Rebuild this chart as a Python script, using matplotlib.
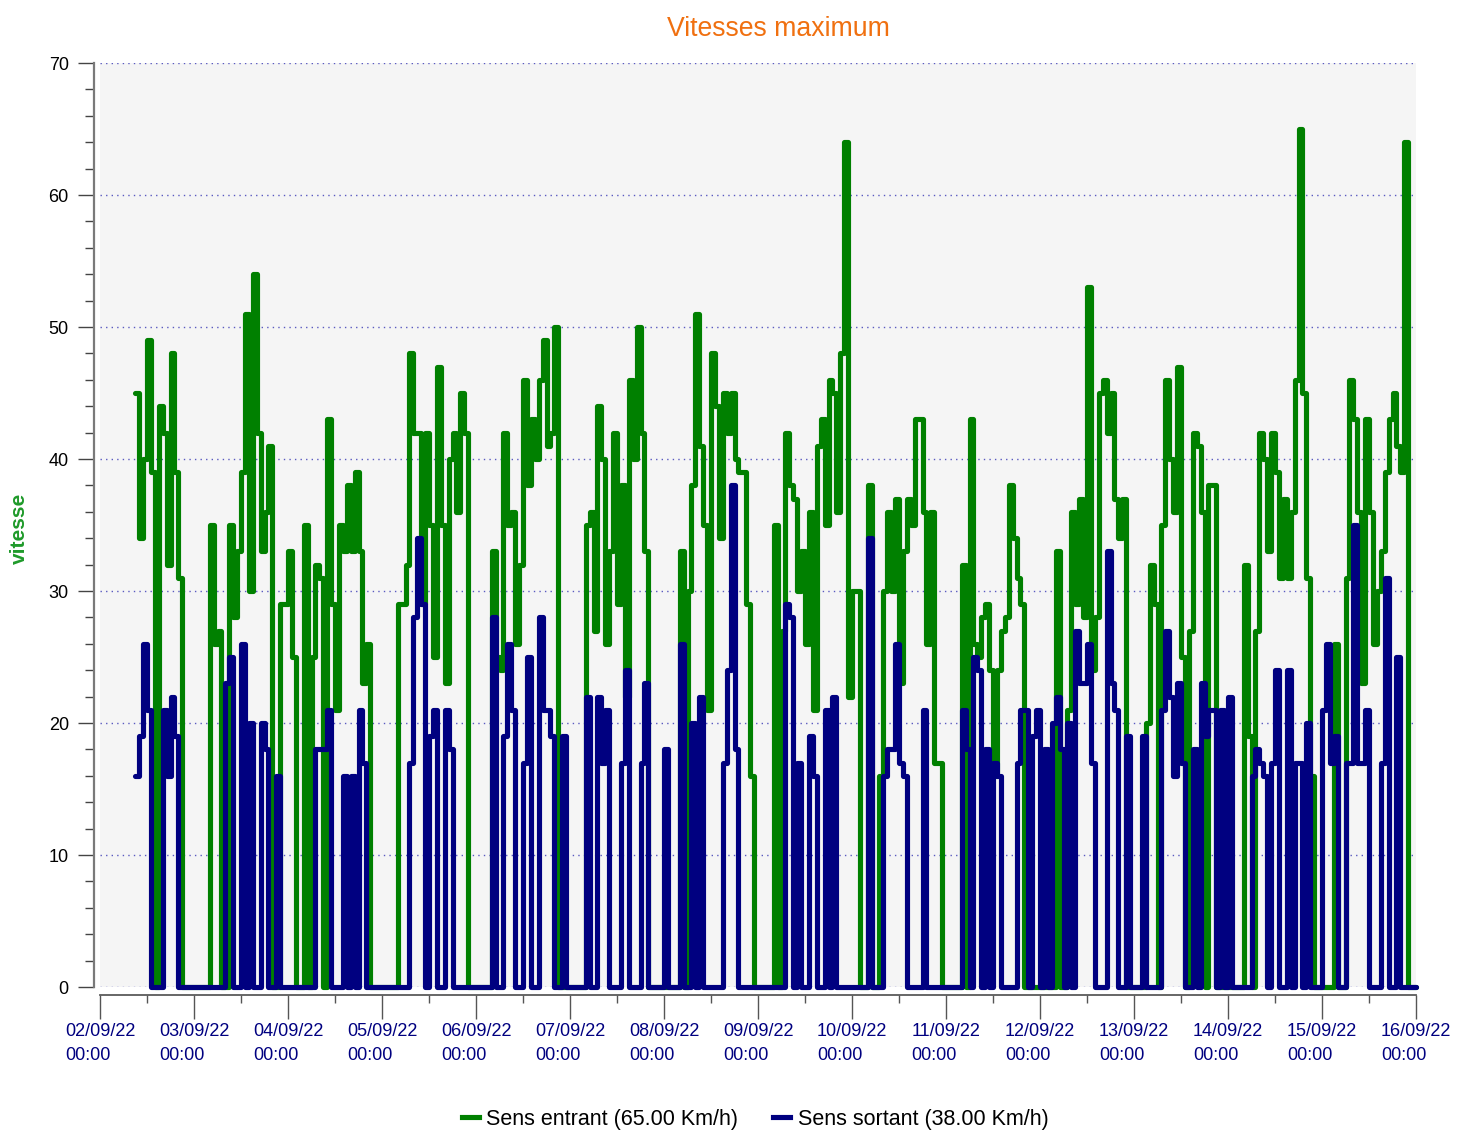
import numpy as np
import pandas as pd
import matplotlib
matplotlib.use("Agg")
import matplotlib.pyplot as plt
from matplotlib.lines import Line2D

plt.rcParams['font.family'] = ['Liberation Sans', 'DejaVu Sans']

# Hourly maximum speeds (km/h), 02/09/22 00:00 -> 15/09/22 23:00, one day per line
entrant = [
    0, 0, 0, 0, 0, 0, 0, 0, 0, 45, 34, 40, 49, 39, 0, 44, 42, 32, 48, 39, 31, 0, 0, 0,
    0, 0, 0, 0, 35, 26, 27, 0, 0, 35, 28, 33, 39, 51, 30, 54, 42, 33, 36, 41, 0, 0, 29, 29,
    33, 25, 0, 0, 35, 0, 25, 32, 31, 0, 43, 29, 21, 35, 33, 38, 33, 39, 33, 23, 26, 0, 0, 0,
    0, 0, 0, 0, 29, 29, 32, 48, 42, 42, 29, 42, 35, 25, 47, 35, 23, 40, 42, 36, 45, 42, 0, 0,
    0, 0, 0, 0, 33, 25, 24, 42, 35, 36, 26, 32, 46, 38, 43, 40, 46, 49, 41, 42, 50, 0, 0, 0,
    0, 0, 0, 0, 35, 36, 27, 44, 40, 26, 33, 42, 29, 38, 22, 46, 40, 50, 42, 33, 0, 0, 0, 0,
    0, 0, 0, 0, 33, 0, 30, 38, 51, 41, 35, 21, 48, 44, 34, 45, 42, 45, 40, 39, 39, 29, 16, 0,
    0, 0, 0, 0, 35, 0, 27, 42, 38, 37, 30, 33, 26, 36, 21, 41, 43, 35, 46, 45, 36, 48, 64, 22,
    30, 30, 0, 0, 38, 0, 0, 16, 30, 36, 30, 37, 23, 33, 37, 35, 43, 43, 36, 26, 36, 17, 17, 0,
    0, 0, 0, 0, 32, 0, 43, 26, 25, 28, 29, 24, 16, 24, 27, 28, 38, 34, 31, 29, 0, 0, 0, 0,
    0, 0, 0, 0, 33, 0, 0, 21, 36, 29, 37, 28, 53, 24, 28, 45, 46, 42, 45, 37, 34, 37, 0, 0,
    0, 0, 0, 20, 32, 29, 0, 35, 46, 40, 36, 47, 25, 0, 27, 42, 41, 36, 0, 38, 38, 0, 0, 0,
    0, 0, 0, 0, 32, 19, 0, 27, 42, 40, 33, 42, 39, 31, 37, 31, 36, 46, 65, 45, 31, 16, 0, 0,
    0, 0, 0, 26, 0, 0, 31, 46, 43, 36, 23, 43, 36, 26, 30, 33, 39, 43, 45, 41, 39, 64, 0, 0,
]
sortant = [
    0, 0, 0, 0, 0, 0, 0, 0, 0, 16, 19, 26, 21, 0, 0, 0, 21, 16, 22, 19, 0, 0, 0, 0,
    0, 0, 0, 0, 0, 0, 0, 0, 23, 25, 0, 0, 26, 0, 20, 0, 0, 20, 18, 0, 0, 16, 0, 0,
    0, 0, 0, 0, 0, 0, 0, 18, 18, 18, 21, 0, 0, 0, 16, 0, 16, 0, 21, 17, 0, 0, 0, 0,
    0, 0, 0, 0, 0, 0, 0, 17, 28, 34, 29, 0, 19, 21, 0, 0, 21, 18, 0, 0, 0, 0, 0, 0,
    0, 0, 0, 0, 28, 0, 0, 19, 26, 21, 0, 0, 17, 25, 0, 0, 28, 21, 21, 19, 0, 0, 19, 0,
    0, 0, 0, 0, 22, 0, 0, 22, 17, 21, 0, 0, 0, 17, 24, 0, 0, 0, 17, 23, 0, 0, 0, 0,
    18, 0, 0, 0, 26, 0, 0, 20, 0, 22, 0, 0, 0, 0, 0, 17, 24, 38, 18, 0, 0, 0, 0, 0,
    0, 0, 0, 0, 0, 0, 0, 29, 28, 0, 17, 0, 0, 19, 16, 0, 0, 21, 0, 22, 0, 0, 0, 0,
    0, 0, 0, 0, 34, 0, 0, 0, 16, 18, 18, 26, 17, 16, 0, 0, 0, 0, 21, 0, 0, 0, 0, 0,
    0, 0, 0, 0, 21, 18, 0, 25, 24, 0, 18, 0, 17, 16, 0, 0, 0, 0, 17, 21, 21, 0, 19, 21,
    0, 18, 0, 20, 22, 18, 0, 20, 0, 27, 23, 23, 26, 17, 0, 0, 0, 33, 23, 21, 0, 0, 19, 0,
    0, 0, 19, 0, 0, 0, 0, 21, 27, 22, 16, 23, 17, 0, 0, 18, 0, 23, 19, 21, 21, 0, 21, 0,
    22, 0, 0, 0, 0, 0, 16, 18, 17, 16, 0, 17, 24, 0, 0, 24, 0, 17, 17, 0, 20, 0, 0, 0,
    21, 26, 17, 19, 0, 0, 17, 17, 35, 17, 17, 21, 0, 0, 0, 17, 31, 0, 0, 25, 0, 0, 0, 0,
]
first_hour = 9  # recording starts 02/09/22 09:00
day_labels = [f"{d:02d}/09/22\n00:00" for d in range(2, 17)]

W, H = 1457, 1133
fig = plt.figure(figsize=(W / 100, H / 100), dpi=100)
L, R, B, T = 100, 1416, 987, 63
ax = fig.add_axes([L / W, 1 - B / H, (R - L) / W, (B - T) / H])
ax.set_facecolor('#f5f5f5')

for s in ('top', 'right'):
    ax.spines[s].set_visible(False)
ax.spines['left'].set_position(('outward', 4))
ax.spines['bottom'].set_position(('outward', 6))
ax.spines['left'].set_color('#7a7a7a')
ax.spines['bottom'].set_color('#5a5a5a')
ax.spines['left'].set_linewidth(1.6)
ax.spines['bottom'].set_linewidth(1.3)

hours = np.arange(len(entrant) + 1)
ent = np.array(entrant + [entrant[-1]], dtype=float)
sor = np.array(sortant + [sortant[-1]], dtype=float)
sl = slice(first_hour, None)

for vals, col in ((ent, '#008000'), (sor, '#000080')):
    ax.plot(hours[sl], vals[sl], drawstyle='steps-post', color=col, lw=3.7,
            solid_joinstyle='round', solid_capstyle='round', clip_on=False, zorder=3)

ax.set_xlim(0, len(entrant))
ax.set_ylim(0, 70)

ax.set_yticks(np.arange(0, 71, 10))
ax.set_yticks(np.arange(0, 71, 2), minor=True)
ax.yaxis.grid(True, which='major', linestyle=(0, (1, 3)), color='#5a5ac0', lw=1.0)
ax.set_axisbelow(True)

ax.set_xticks(np.arange(0, len(entrant) + 1, 24))
ax.set_xticklabels(day_labels)
ax.set_xticks(np.arange(12, len(entrant), 24), minor=True)

ax.tick_params(axis='y', which='major', length=11.5, width=1.0, color='#444444',
               labelsize=13, labelcolor='black', pad=7)
ax.tick_params(axis='y', which='minor', length=6.5, width=1.0, color='#444444')
ax.tick_params(axis='x', which='major', length=17, width=1.0, color='#555555',
               labelsize=13, labelcolor='#000080', pad=3)
ax.tick_params(axis='x', which='minor', length=6, width=1.0, color='#555555')

fig.text(778 / W, 1 - 29 / H, 'Vitesses maximum', color='#f07010', fontsize=19.2,
         ha='center', va='center')
fig.text(19 / W, 1 - 528 / H, 'vitesse', color='#1f9a2a', fontsize=15, fontweight='bold',
         rotation=90, ha='center', va='center')

handles = [Line2D([], [], color='#008000', lw=3.7), Line2D([], [], color='#000080', lw=3.7)]
labels = [f"Sens entrant ({max(entrant):.2f} Km/h)", f"Sens sortant ({max(sortant):.2f} Km/h)"]
fig.legend(handles, labels, loc='center', bbox_to_anchor=(755 / W, 1 - 1119 / H), ncol=2,
           frameon=False, fontsize=15.5, handlelength=0.8, handletextpad=0.35,
           columnspacing=1.6)

for lab in ax.get_xticklabels():
    lab.set_multialignment('left')
    lab.set_linespacing(1.5)

fig.savefig('out.png', dpi=100)
